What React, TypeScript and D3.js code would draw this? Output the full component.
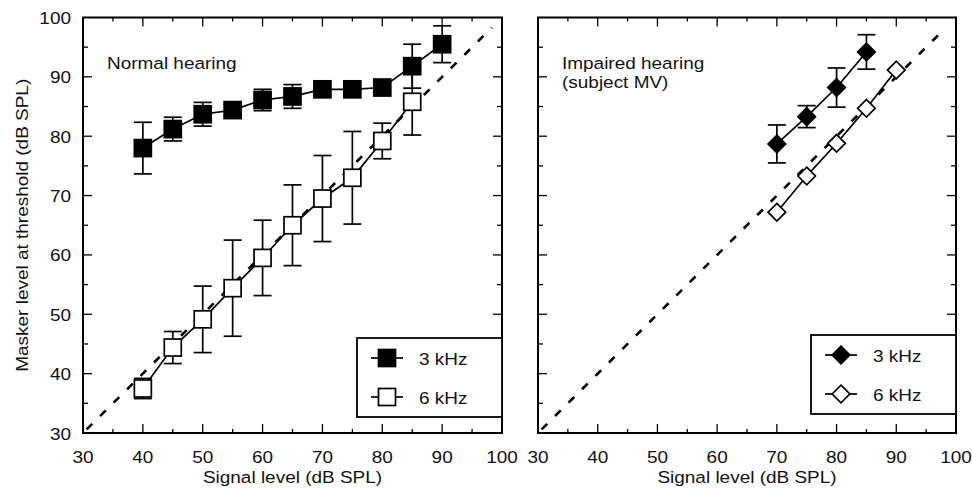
import React from 'react';
import * as d3 from 'd3';

// values (dB SPL)
const axisTicks = [30, 40, 50, 60, 70, 80, 90, 100];
const minorTicks = [35, 45, 55, 65, 75, 85, 95];

const normalSignal3k = [40, 45, 50, 55, 60, 65, 70, 75, 80, 85, 90];
const normal3k = [78, 81.2, 83.7, 84.4, 86.1, 86.7, 87.9, 87.9, 88.2, 91.8, 95.5];
const normal3kErr = [4.35, 2.0, 2.0, 1.0, 1.8, 2.0, 0, 0, 0, 3.7, 3.1];

const normalSignal6k = [40, 45, 50, 55, 60, 65, 70, 75, 80, 85];
const normal6k = [37.5, 44.4, 49.15, 54.4, 59.5, 65, 69.5, 73, 79.2, 85.8];
const normal6kErr = [1.7, 2.7, 5.6, 8.1, 6.35, 6.8, 7.25, 7.8, 3.0, 5.6];

const impairedSignal3k = [70, 75, 80, 85];
const impaired3k = [78.7, 83.3, 88.2, 94.2];
const impaired3kErr = [3.2, 1.85, 3.3, 2.9];

const impairedSignal6k = [70, 75, 80, 85, 90];
const impaired6k = [67.2, 73.3, 78.8, 84.7, 91.15];

const legendLabels = ['3 kHz', '6 kHz'];

const W = 972;
const H = 493;
const TOP = 17.5;
const BOTTOM = 433;
const FONT = '"Liberation Sans", Arial, Helvetica, sans-serif';
const FS = 16.5;
const SX = 1.15;

function Txt({ x, y, anchor = 'start', rotate = false, children }: any) {
  return (
    <text
      transform={`translate(${x},${y})${rotate ? ' rotate(-90)' : ''} scale(${SX},1)`}
      textAnchor={anchor}
      fontFamily={FONT}
      fontSize={FS}
      fill="#111"
    >
      {children}
    </text>
  );
}

function Marker({ shape, filled, cx, cy }: any) {
  const fill = filled ? '#000' : '#fff';
  if (shape === 'square') {
    return <rect x={cx - 8.5} y={cy - 8.5} width={17} height={17} fill={fill} stroke="#000" strokeWidth={1.7} />;
  }
  const p = `M${cx},${cy - 8.8}L${cx + 8.8},${cy}L${cx},${cy + 8.8}L${cx - 8.8},${cy}Z`;
  return <path d={p} fill={fill} stroke="#000" strokeWidth={1.7} />;
}

function Panel({ left, right, series, shape, notes, legend, yLabels }: any) {
  const x = d3.scaleLinear().domain([30, 100]).range([left, right]);
  const y = d3.scaleLinear().domain([30, 100]).range([BOTTOM, TOP]);
  const line = d3.line<[number, number]>().x(d => x(d[0])).y(d => y(d[1]));

  return (
    <g>
      {/* identity line */}
      <path d={line([[30.6, 30.6], [98.3, 98.3]]) || ''} stroke="#000" strokeWidth={2.6} strokeDasharray="8,11" fill="none" />

      {series.map((s: any, si: number) => (
        <g key={si}>
          {s.err && s.xs.map((sx: number, i: number) => s.err[i] > 0 ? (
            <g key={i} stroke="#000" strokeWidth={1.7}>
              <line x1={x(sx)} x2={x(sx)} y1={y(s.ys[i] - s.err[i])} y2={y(s.ys[i] + s.err[i])} />
              <line x1={x(sx) - 9} x2={x(sx) + 9} y1={y(s.ys[i] + s.err[i])} y2={y(s.ys[i] + s.err[i])} />
              <line x1={x(sx) - 9} x2={x(sx) + 9} y1={y(s.ys[i] - s.err[i])} y2={y(s.ys[i] - s.err[i])} />
            </g>
          ) : null)}
          <path d={line(s.xs.map((v: number, i: number) => [v, s.ys[i]])) || ''} stroke="#000" strokeWidth={1.7} fill="none" />
        </g>
      ))}
      {series.map((s: any, si: number) => (
        <g key={si}>
          {s.xs.map((sx: number, i: number) => (
            <Marker key={i} shape={shape} filled={s.filled} cx={x(sx)} cy={y(s.ys[i])} />
          ))}
        </g>
      ))}

      {/* frame and ticks */}
      <rect x={left} y={TOP} width={right - left} height={BOTTOM - TOP} fill="none" stroke="#000" strokeWidth={2} />
      <g stroke="#000" strokeWidth={1.3}>
        {axisTicks.slice(1, -1).map(t => (
          <g key={t}>
            <line x1={x(t)} x2={x(t)} y1={BOTTOM} y2={BOTTOM - 9} />
            <line x1={x(t)} x2={x(t)} y1={TOP} y2={TOP + 9} />
            <line x1={left} x2={left + 9} y1={y(t)} y2={y(t)} />
            <line x1={right} x2={right - 9} y1={y(t)} y2={y(t)} />
          </g>
        ))}
        {minorTicks.map(t => (
          <g key={t}>
            <line x1={x(t)} x2={x(t)} y1={BOTTOM} y2={BOTTOM - 4} />
            <line x1={x(t)} x2={x(t)} y1={TOP} y2={TOP + 4} />
            <line x1={left} x2={left + 5} y1={y(t)} y2={y(t)} />
            <line x1={right} x2={right - 5} y1={y(t)} y2={y(t)} />
          </g>
        ))}
      </g>

      {axisTicks.map(t => (
        <Txt key={t} x={x(t)} y={BOTTOM + 30} anchor="middle">{t}</Txt>
      ))}
      {yLabels && axisTicks.map(t => (
        <Txt key={t} x={left - 12} y={y(t) + 6.5} anchor="end">{t}</Txt>
      ))}
      <Txt x={(left + right) / 2} y={BOTTOM + 50} anchor="middle">Signal level (dB SPL)</Txt>

      {notes.map((n: string, i: number) => (
        <Txt key={i} x={left + 24} y={69 + i * 18.5}>{n}</Txt>
      ))}

      {/* legend */}
      <rect x={legend.x} y={legend.y} width={right - legend.x} height={79} fill="#fff" stroke="#000" strokeWidth={1.8} />
      {legendLabels.map((lab, i) => {
        const cy = legend.y + 20 + i * 39;
        const mx = legend.x + 30;
        return (
          <g key={lab}>
            <line x1={mx - 16} x2={mx + 16} y1={cy} y2={cy} stroke="#000" strokeWidth={1.7} />
            <Marker shape={shape} filled={i === 0} cx={mx} cy={cy} />
            <Txt x={legend.x + 62} y={cy + 6.5}>{lab}</Txt>
          </g>
        );
      })}
    </g>
  );
}

export default function App() {
  return (
    <svg width={W} height={H} style={{ position: 'absolute', left: 0, top: 0, background: '#fff' }}>
      <Panel
        left={83}
        right={502}
        shape="square"
        yLabels
        notes={['Normal hearing']}
        legend={{ x: 357, y: 338 }}
        series={[
          { xs: normalSignal3k, ys: normal3k, err: normal3kErr, filled: true },
          { xs: normalSignal6k, ys: normal6k, err: normal6kErr, filled: false },
        ]}
      />
      <Panel
        left={538}
        right={956}
        shape="diamond"
        notes={['Impaired hearing', '(subject MV)']}
        legend={{ x: 811, y: 335 }}
        series={[
          { xs: impairedSignal3k, ys: impaired3k, err: impaired3kErr, filled: true },
          { xs: impairedSignal6k, ys: impaired6k, err: null, filled: false },
        ]}
      />
      <Txt x={28} y={(TOP + BOTTOM) / 2} anchor="middle" rotate>Masker level at threshold (dB SPL)</Txt>
    </svg>
  );
}
